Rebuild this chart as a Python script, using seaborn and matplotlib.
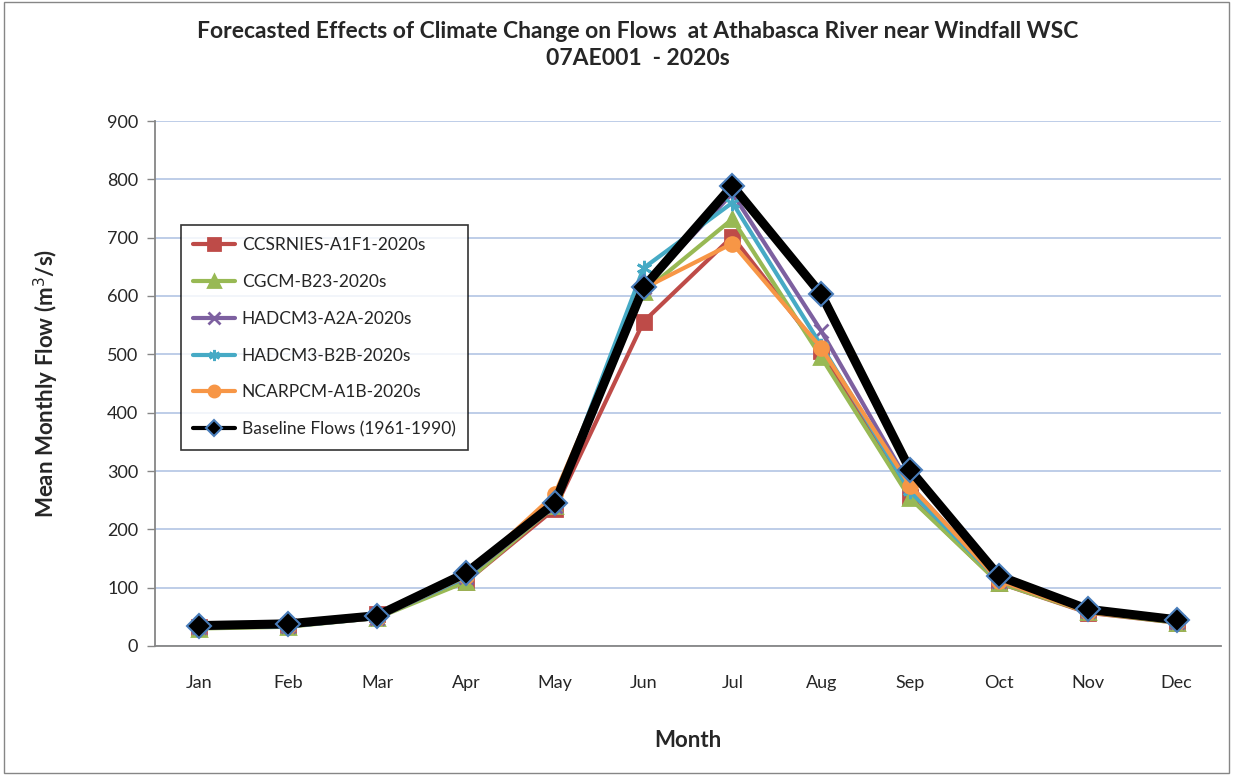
import pandas as pd
import seaborn as sns
import matplotlib.pyplot as plt
from matplotlib.patches import Rectangle

# --- Style ---
sns.set_theme(style="white")
plt.rcParams['font.family'] = ['Lato', 'DejaVu Sans']

# --- Data ---
months = ['Jan', 'Feb', 'Mar', 'Apr', 'May', 'Jun', 'Jul', 'Aug', 'Sep', 'Oct', 'Nov', 'Dec']
ccsrnies = [32, 35, 55, 110, 235, 556, 702, 505, 255, 108, 57, 40]
cgcm = [30, 33, 48, 110, 240, 607, 732, 495, 253, 108, 58, 40]
hadcm3_a2a = [32, 34, 48, 118, 240, 615, 776, 540, 275, 112, 60, 42]
hadcm3_b2b = [32, 34, 48, 118, 245, 648, 760, 515, 265, 112, 60, 42]
ncarpcm = [32, 35, 48, 120, 260, 613, 690, 511, 275, 112, 58, 42]
baseline = [35, 38, 52, 125, 245, 615, 789, 603, 302, 120, 63, 45]

series_names = ['CCSRNIES-A1F1-2020s', 'CGCM-B23-2020s', 'HADCM3-A2A-2020s',
                'HADCM3-B2B-2020s', 'NCARPCM-A1B-2020s', 'Baseline Flows (1961-1990)']
series_values = [ccsrnies, cgcm, hadcm3_a2a, hadcm3_b2b, ncarpcm, baseline]

rows = []
for name, vals in zip(series_names, series_values):
    for i, v in enumerate(vals):
        rows.append({'series': name, 'idx': i, 'month': months[i], 'flow': v})
df = pd.DataFrame(rows)

styles = {
    'CCSRNIES-A1F1-2020s': dict(color='#be4b48', marker='s', ms=10, lw=3, mfc='#be4b48', mec='#be4b48'),
    'CGCM-B23-2020s': dict(color='#98b954', marker='^', ms=10, lw=3, mfc='#98b954', mec='#98b954'),
    'HADCM3-A2A-2020s': dict(color='#7d60a0', marker='x', ms=10, lw=3, mfc='#7d60a0', mec='#7d60a0'),
    'HADCM3-B2B-2020s': dict(color='#46aac5', marker=(6, 2, 0), ms=11, lw=3, mfc='#46aac5', mec='#46aac5'),
    'NCARPCM-A1B-2020s': dict(color='#f79646', marker='o', ms=10, lw=3, mfc='#f79646', mec='#f79646'),
    'Baseline Flows (1961-1990)': dict(color='black', marker='D', ms=12, lw=6.5, mfc='black', mec='#4a7ebb'),
}

fig = plt.figure(figsize=(12.33, 7.75), dpi=100)
ax = fig.add_axes([155 / 1233, 1 - 646 / 775, (1221 - 155) / 1233, (646 - 121) / 775])

for name in series_names:
    st = styles[name]
    sub = df[df['series'] == name]
    sns.lineplot(data=sub, x='idx', y='flow', ax=ax, label=name,
                 color=st['color'], linewidth=st['lw'], marker=st['marker'],
                 markersize=st['ms'], markerfacecolor=st['mfc'],
                 markeredgecolor=st['mec'], markeredgewidth=1.5 if name.startswith('Base') else 2)

# --- Axes ---
ax.set_xlim(-0.5, 11.5)
ax.set_ylim(0, 900)
ax.set_yticks(range(0, 901, 100))
ax.set_xticks(range(12))
ax.set_xticklabels(months)
ax.set_xticks([i - 0.5 for i in range(13)], minor=True)
ax.tick_params(axis='x', which='major', length=0, pad=21, labelsize=13)
ax.tick_params(axis='x', which='minor', length=6, width=1, color='#868686', direction='out')
ax.tick_params(axis='y', length=6, width=1, color='#868686', direction='out', labelsize=13, left=True, pad=6)
ax.yaxis.grid(True, color='#b9c9e6', linewidth=1.3)
ax.set_axisbelow(True)
for s in ['top', 'right']:
    ax.spines[s].set_visible(False)
for s in ['left', 'bottom']:
    ax.spines[s].set_color('#868686')
    ax.spines[s].set_linewidth(1.3)

ax.set_xlabel('Month', fontsize=16, fontweight='bold', labelpad=28)
ax.set_ylabel('Mean Monthly Flow (m$^3$/s)', fontsize=16, fontweight='bold', labelpad=33)

fig.suptitle('Forecasted Effects of Climate Change on Flows  at Athabasca River near Windfall WSC\n07AE001  - 2020s',
             fontsize=16.5, fontweight='bold', x=638 / 1233, y=0.973, linespacing=1.35)

leg = ax.legend(loc='upper left', bbox_to_anchor=((181 - 155) / 1066, 1 - (225 - 121) / 525),
                borderaxespad=0, frameon=True, fancybox=False, edgecolor='black',
                fontsize=12.5, handlelength=2.4, labelspacing=1.2, borderpad=0.7,
                handletextpad=0.4)
leg.get_frame().set_linewidth(1.2)
for h in leg.legend_handles:
    h.set_linewidth(3)
    h.set_markersize(8)

# outer chart border
fig.patches.append(Rectangle((0.003, 0.003), 0.994, 0.994, transform=fig.transFigure,
                             fill=False, edgecolor='#868686', linewidth=1))

fig.savefig('out.png', dpi=100)
